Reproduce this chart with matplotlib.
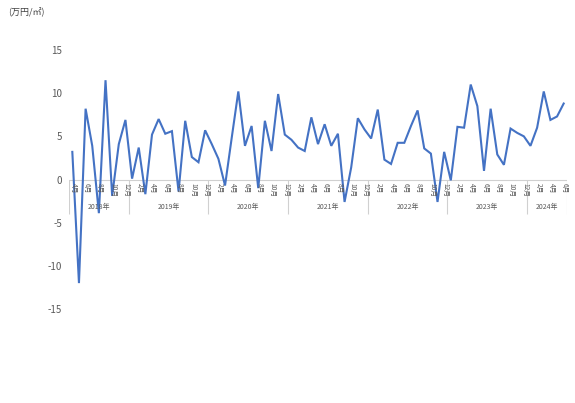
"""Monthly change line chart (万円/㎡), 2018-04 .. 2024-06."""
import matplotlib

matplotlib.use("Agg")
import matplotlib.pyplot as plt

plt.rcParams["font.family"] = ["Noto Sans CJK JP", "DejaVu Sans"]

# Data: one value per month, starting 2018-04
start_year = 2018
start_month = 4
values = [
    3.2, -12.0, 8.2, 3.9, -3.9, 11.5, -1.9, 4.1, 6.9,            # 2018 Apr-Dec
    0.1, 3.7, -1.7, 5.2, 7.0, 5.3, 5.6, -1.4, 6.8, 2.6, 2.0, 5.7,  # 2019
    4.1, 2.4, -0.7, 4.8, 10.2, 3.9, 6.2, -1.0, 6.8, 3.3, 9.9, 5.2,  # 2020
    4.6, 3.7, 3.3, 7.2, 4.1, 6.4, 3.9, 5.3, -2.6, 1.4, 7.1, 5.8,   # 2021
    4.75, 8.1, 2.3, 1.8, 4.25, 4.25, 6.2, 8.0, 3.6, 3.0, -2.6, 3.2,  # 2022
    -0.1, 6.1, 6.0, 11.0, 8.5, 1.0, 8.2, 2.9, 1.7, 5.9, 5.4, 5.0,   # 2023
    3.9, 6.0, 10.2, 6.9, 7.3, 8.8,                                 # 2024 Jan-Jun
]
y_ticks = [15, 10, 5, 0, -5, -10, -15]
unit_label = "(万円/㎡)"

LINE_COLOR = "#4472C4"
TEXT_COLOR = "#595959"
AXIS_COLOR = "#D0D0D0"

# month / year for every point
months = []
years = []
for i in range(len(values)):
    m0 = start_month - 1 + i
    years.append(start_year + m0 // 12)
    months.append(m0 % 12 + 1)
xs = list(range(len(values)))

W, H = 575, 403
fig = plt.figure(figsize=(W / 100, H / 100), dpi=100)
ax = fig.add_axes([69 / W, 1 - 309 / H, (567 - 69) / W, (309 - 50) / H])

ax.plot(xs, values, color=LINE_COLOR, linewidth=1.5, solid_joinstyle="miter",
        clip_on=False, zorder=3)

ax.set_xlim(-0.5, len(values) - 0.5)
ax.set_ylim(min(y_ticks), max(y_ticks))
for s in ax.spines.values():
    s.set_visible(False)
ax.set_xticks([])
ax.set_yticks(y_ticks)
ax.set_yticklabels([str(t) for t in y_ticks])
ax.tick_params(axis="y", length=0, pad=5, labelsize=7, labelcolor=TEXT_COLOR)

# category axis at zero
ax.axhline(0, color=AXIS_COLOR, linewidth=0.8, zorder=1)

# month labels (every second month)
for x, m in zip(xs, months):
    if m % 2 == 0:
        ax.annotate(f"{m}月", (x, 0), xytext=(1, -2.5), textcoords="offset points",
                    rotation=-90, ha="center", va="top", fontsize=4.8,
                    color=TEXT_COLOR)

# year groups: separators and labels
year_list = sorted(set(years))
sep_bottom = -34 / 8.633
bounds = [-0.5]
for y in year_list:
    idx = [x for x, yy in zip(xs, years) if yy == y]
    bounds.append(idx[-1] + 0.5)
    mid = (idx[0] + idx[-1]) / 2
    ax.annotate(f"{y}年", (mid, 0), xytext=(0, -20), textcoords="offset points",
                ha="center", va="center", fontsize=5, color=TEXT_COLOR)
ax.vlines(bounds, sep_bottom, 0, color=AXIS_COLOR, linewidth=0.8, zorder=1)

fig.text(8 / W, 1 - 12 / H, unit_label, ha="left", va="center", fontsize=6.5,
         color="#404040")

fig.savefig("out.png", dpi=100)
